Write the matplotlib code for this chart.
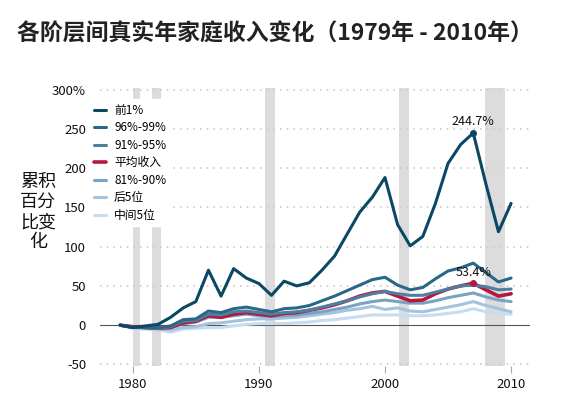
import matplotlib
matplotlib.use('Agg')
import matplotlib.pyplot as plt

plt.rcParams['font.family'] = ['Noto Sans CJK SC', 'DejaVu Sans']

years = list(range(1979, 2011))

top1 = [0, -3, -1, 1, 10, 22, 30, 70, 37, 72, 60, 53, 38, 56, 50, 54, 70, 88, 116, 144, 163, 188, 128, 101, 113, 155, 206, 230, 244.7, 180, 119, 155]
p96_99 = [0, -3, -3, -3, -1, 7, 8, 18, 16, 21, 23, 20, 17, 21, 22, 25, 31, 37, 44, 51, 58, 61, 51, 45, 48, 59, 69, 73, 79, 67, 55, 60]
p91_95 = [0, -3, -3, -4, -2, 5, 6, 14, 13, 17, 18, 16, 14, 16, 17, 19, 23, 27, 31, 36, 40, 43, 40, 38, 38, 42, 46, 50, 51, 49, 45, 46]
average = [0, -2, -3, -4, -3, 3, 5, 12, 10, 14, 16, 14, 12, 15, 16, 19, 22, 26, 31, 37, 41, 43, 37, 31, 32, 40, 46, 50, 53.4, 45, 37, 40]
p81_90 = [0, -2, -3, -4, -3, 2, 4, 10, 10, 12, 14, 12, 11, 12, 13, 15, 17, 20, 23, 27, 30, 32, 30, 28, 28, 31, 35, 38, 41, 36, 32, 30]
bottom5 = [0, -3, -4, -5, -6, -3, -2, 2, 3, 5, 7, 8, 8, 9, 10, 12, 14, 16, 19, 21, 24, 20, 22, 18, 17, 20, 23, 26, 30, 25, 21, 17]
middle5 = [0, -4, -5, -6, -9, -5, -4, -3, -3, -1, 1, 2, 2, 2, 3, 4, 6, 7, 9, 11, 13, 13, 13, 12, 12, 13, 15, 17, 21, 17, 15, 14]

series = [
    ('前1%', top1, '#0b4866', 2.2),
    ('96%-99%', p96_99, '#2a6888', 2.2),
    ('91%-95%', p91_95, '#4e7fa0', 2.2),
    ('平均收入', average, '#b5173e', 2.6),
    ('81%-90%', p81_90, '#7aa3c2', 2.2),
    ('后5位', bottom5, '#a4c3df', 2.2),
    ('中间5位', middle5, '#c6ddf0', 2.2),
]

recessions = [(1980.0, 1980.55), (1981.5, 1982.2), (1990.5, 1991.3), (2001.1, 2001.9), (2007.9, 2009.5)]

fig = plt.figure(figsize=(5.7, 3.98), dpi=100)
ax = fig.add_axes([100 / 570, 32 / 398, 430 / 570, 278 / 398])

for a, b in recessions:
    ax.axvspan(a, b, color='#dcdcdc', lw=0, zorder=0)

for v in range(-50, 301, 50):
    if v != 0:
        ax.axhline(v, color='#cccccc', lw=1.2, ls=(0, (1, 3)), zorder=1)
ax.axhline(0, color='#555555', lw=0.8, zorder=1)

# draw lightest first so darker lines sit on top
for name, vals, color, lw in reversed(series):
    ax.plot(years, vals, color=color, lw=lw, label=name, zorder=3,
            solid_joinstyle='round', solid_capstyle='round')

ax.plot([2007], [244.7], 'o', color='#0b4866', ms=4, zorder=4)
ax.plot([2007], [53.4], 'o', color='#b5173e', ms=4, zorder=4)
ax.text(2007, 251, '244.7%', ha='center', va='bottom', fontsize=9, color='#111111')
ax.text(2007, 59, '53.4%', ha='center', va='bottom', fontsize=9, color='#111111')

ax.set_xlim(1977.4, 2011.5)
ax.set_ylim(-52, 302)
ax.set_yticks(range(-50, 301, 50))
ax.set_yticklabels([str(v) if v != 300 else '300%' for v in range(-50, 301, 50)])
ax.set_xticks([1980, 1990, 2000, 2010])
for s in ax.spines.values():
    s.set_visible(False)
ax.tick_params(axis='y', length=0, labelsize=9.5, pad=10, colors='#111111')
ax.tick_params(axis='x', length=5, width=0.8, color='#aaaaaa', labelsize=9.5, pad=4, labelcolor='#111111')

handles, labels = ax.get_legend_handles_labels()
leg = ax.legend(handles[::-1], labels[::-1], loc='upper left', bbox_to_anchor=(-0.025, 0.96),
                frameon=True, fontsize=8.5, handlelength=1.0, handletextpad=0.7,
                labelspacing=0.38, borderpad=0.4, borderaxespad=0)
leg.get_frame().set_facecolor('white')
leg.get_frame().set_edgecolor('white')
leg.get_frame().set_alpha(1)
leg.set_zorder(5)

fig.text(38 / 570, 1 - 212 / 398, '累积\n百分\n比变\n化', ha='center', va='center',
         fontsize=13, linespacing=1.15, color='#111111')

fig.text(17 / 570, 1 - 33 / 398, '各阶层间真实年家庭收入变化（1979年 - 2010年）',
         ha='left', va='center', fontsize=16.5, fontweight='bold', color='#222222')

fig.savefig('out.png', dpi=100)
